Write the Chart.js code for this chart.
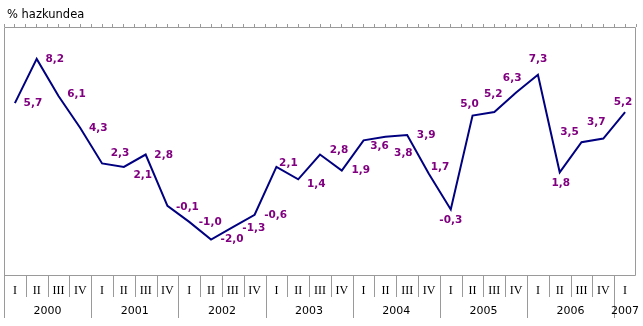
<!DOCTYPE html>
<html>
<head>
<meta charset="utf-8">
<script src="https://cdn.jsdelivr.net/npm/chart.js@4/dist/chart.umd.min.js"></script>
<style>
  html, body { margin: 0; padding: 0; background: #ffffff; }
  #c { display: block; }
</style>
</head>
<body>
<canvas id="c" width="643" height="326"></canvas>
<script>
// ---- data ----
const quarters = ['I','II','III','IV','I','II','III','IV','I','II','III','IV','I','II','III','IV',
                  'I','II','III','IV','I','II','III','IV','I','II','III','IV','I'];
const years = ['2000','2001','2002','2003','2004','2005','2006','2007'];
const growth = [5.7, 8.2, 6.1, 4.3, 2.3, 2.1, 2.8, -0.1, -1.0, -2.0, -1.3, -0.6, 2.1, 1.4, 2.8, 1.9,
                3.6, 3.8, 3.9, 1.7, -0.3, 5.0, 5.2, 6.3, 7.3, 1.8, 3.5, 3.7, 5.2];
const unitLabel = '% hazkundea';

// ---- label placement (style only: pixel offsets of each value label from its point) ----
const labelOffsets = [[18,0],[18,0],[18,-2],[18,0],[18,-10],[19,8],[18,1],[20,1],[21,0],[21,0],[21,1],[21,0],
                      [12,-4],[18,5],[19,-4],[19,0],[16,6],[18,16],[19,0],[11,-7],[0,11],[-3,-11],[-1,-18],
                      [-4,-14],[0,-16],[1,11],[-12,-10],[-7,-16],[-2,-10]];

const GRAY = '#9a9a9a';
const LINE = '#000080';
const LABEL = '#800080';

const framePlugin = {
  id: 'framePlugin',
  afterDraw(chart) {
    const { ctx, chartArea, scales } = chart;
    const x = scales.x;
    const L = Math.round(chartArea.left) + 0.5;
    const R = Math.round(chartArea.right) - 0.5;
    const T = Math.round(chartArea.top) + 0.5;
    const B = Math.round(chartArea.bottom) + 0.5;
    ctx.save();
    ctx.strokeStyle = GRAY;
    ctx.lineWidth = 1;
    ctx.beginPath();
    ctx.moveTo(L, 318); ctx.lineTo(L, T); ctx.lineTo(R, T); ctx.lineTo(R, B); ctx.lineTo(L, B);
    // quarter / year separators
    for (let i = 1; i < quarters.length; i++) {
      const px = Math.round((x.getPixelForValue(i - 1) + x.getPixelForValue(i)) / 2) + 0.5;
      ctx.moveTo(px, B);
      ctx.lineTo(px, i % 4 === 0 ? 318 : 297);
    }
    ctx.stroke();

    // year labels
    ctx.fillStyle = '#000000';
    ctx.font = '11px "DejaVu Sans", Verdana, sans-serif';
    ctx.textAlign = 'center';
    ctx.textBaseline = 'middle';
    years.forEach((yr, k) => {
      const first = 4 * k;
      const last = Math.min(4 * k + 3, quarters.length - 1);
      const cx = (x.getPixelForValue(first) + x.getPixelForValue(last)) / 2;
      ctx.fillText(yr, cx, 311);
    });

    // unit title
    ctx.textAlign = 'left';
    ctx.font = '11.5px "DejaVu Sans", Verdana, sans-serif';
    ctx.fillText(unitLabel, 7, 15);
    ctx.restore();
  },
  afterDatasetsDraw(chart) {
    const { ctx } = chart;
    const meta = chart.getDatasetMeta(0);
    ctx.save();
    ctx.fillStyle = LABEL;
    ctx.font = 'bold 10.5px "DejaVu Sans", Verdana, sans-serif';
    ctx.textAlign = 'center';
    ctx.textBaseline = 'middle';
    meta.data.forEach((pt, i) => {
      const v = growth[i];
      const txt = v.toFixed(1).replace('.', ',');
      const off = labelOffsets[i] || [18, 0];
      ctx.fillText(txt, pt.x + off[0], pt.y + off[1]);
    });
    ctx.restore();
  }
};

new Chart(document.getElementById('c'), {
  type: 'line',
  data: {
    labels: quarters,
    datasets: [{
      data: growth,
      borderColor: LINE,
      borderWidth: 2,
      pointRadius: 0,
      tension: 0,
      fill: false,
      clip: false
    }]
  },
  options: {
    responsive: false,
    animation: false,
    devicePixelRatio: 1,
    layout: { padding: { left: 4, right: 7, top: 24, bottom: 0 } },
    plugins: { legend: { display: false }, tooltip: { enabled: false }, title: { display: false } },
    scales: {
      x: {
        type: 'category',
        position: 'bottom',
        offset: true,
        grid: { display: false, drawTicks: false },
        border: { display: false },
        ticks: {
          autoSkip: false,
          maxRotation: 0,
          minRotation: 0,
          padding: 9,
          color: '#000000',
          font: { family: '"Liberation Serif", "Times New Roman", serif', size: 12 }
        },
        afterFit(s) { s.height = 51; }
      },
      xTop: {
        type: 'linear',
        position: 'top',
        min: -0.5,
        max: quarters.length - 0.5,
        grid: { drawOnChartArea: false, drawTicks: true, tickLength: 3, color: GRAY },
        border: { display: false },
        ticks: { display: false, stepSize: 0.5, maxTicksLimit: 200 },
        afterFit(s) { s.height = 3; }
      },
      y: {
        display: false,
        min: -4,
        max: 10
      }
    }
  },
  plugins: [framePlugin]
});
</script>
</body>
</html>
